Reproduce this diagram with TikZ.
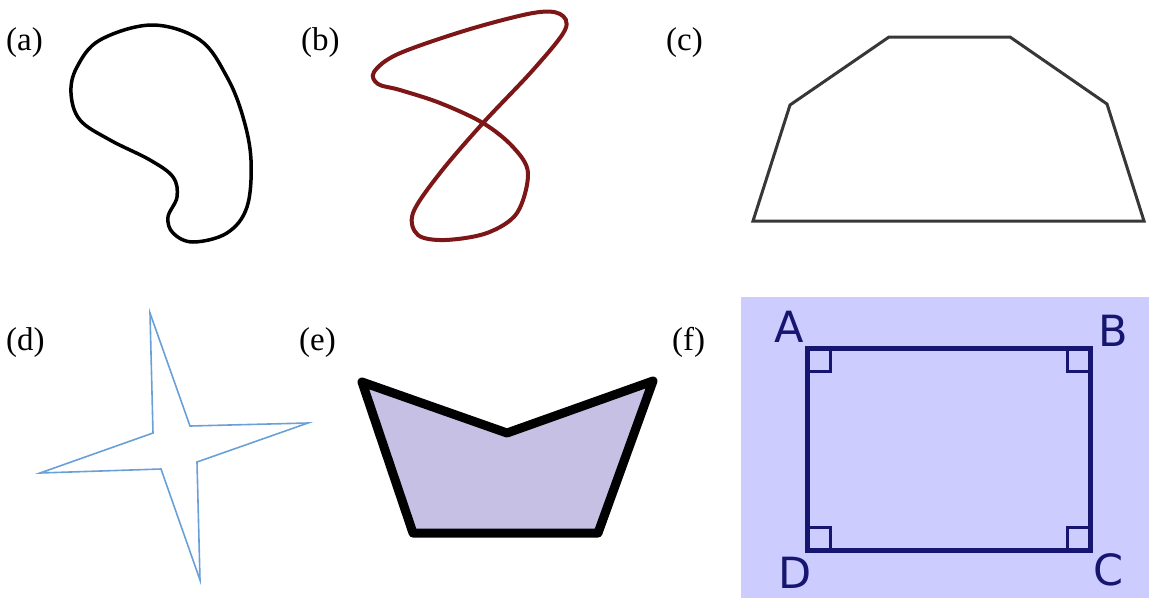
\documentclass[tikz,border=0pt]{standalone}
\usepackage{fontspec}
\setmainfont{Liberation Serif}
\newfontfamily\labsans{DejaVu Sans}
\definecolor{darkred}{RGB}{125,22,22}
\definecolor{starblue}{RGB}{105,160,215}
\definecolor{polygray}{RGB}{55,55,55}
\definecolor{boatfill}{RGB}{198,192,228}
\definecolor{rectbg}{RGB}{204,204,255}
\definecolor{navy}{RGB}{22,22,112}
\begin{document}
\begin{tikzpicture}[x=1pt,y=-1pt,
  lab/.style={anchor=base west,inner sep=0pt,font=\fontsize{33}{38}\selectfont},
  vlab/.style={inner sep=0pt,text=navy,font=\labsans\fontsize{43}{48}\selectfont},
  rmark/.style={draw=navy,line width=3pt}]
\useasboundingbox (0,0) rectangle (1149,598);
% labels
\node[lab] (la) at (6,50) {(a)};
\node[lab] (lb) at (301,50) {(b)};
\node[lab] (lc) at (666,50) {(c)};
\node[lab] (ld) at (6,350) {(d)};
\node[lab] (le) at (299,350) {(e)};
\node[lab] (lf) at (672,350) {(f)};
% (a) kidney
\draw[line width=3.5pt,black] plot[smooth cycle,tension=0.6] coordinates {
 (152,25) (100,40) (77,67) (71,93) (80,120) (110,140) (150,160) (173,177)
 (177,197) (168,217) (173,233) (193,242) (227,233) (247,207) (251,160)
 (243,117) (227,77) (200,40)};
% (b) figure eight
\draw[line width=4pt,darkred] plot[smooth cycle,tension=0.55] coordinates {
 (374,72) (398,54) (467,30) (533,13) (560,14) (565,30) (533,70) (483,123)
 (440,173) (413,213) (418,235) (445,240) (487,233) (517,213) (528,173)
 (513,147) (483,123) (440,103) (400,90) (378,84)};
% (c) polygon
\draw[line width=3pt,polygray,line join=miter]
 (753,221) -- (1144,221) -- (1107,104) -- (1010,37) -- (889,37) -- (790,105) -- cycle;
% (d) star
\draw[line width=1.6pt,starblue,line join=miter]
 (150,313) -- (190,426) -- (308,423) -- (197,462) -- (200,580)
 -- (161,469) -- (40,473) -- (153,433) -- cycle;
% (e) boat
\draw[line width=9pt,black,fill=boatfill,line join=round]
 (362,382) -- (507,433) -- (653,381) -- (598,533) -- (413,533) -- cycle;
% (f) rectangle
\fill[rectbg] (741,297) rectangle (1149,598);
\draw[line width=5pt,navy,line join=miter] (807,348) rectangle (1090,550);
\draw[rmark] (807,371) -- (830,371) -- (830,348);
\draw[rmark] (1090,371) -- (1067,371) -- (1067,348);
\draw[rmark] (807,527) -- (830,527) -- (830,550);
\draw[rmark] (1090,527) -- (1067,527) -- (1067,550);
\node[vlab] (pA) at (789,327) {A};
\node[vlab] (pB) at (1113,331) {B};
\node[vlab] (pD) at (795,573) {D};
\node[vlab] (pC) at (1109,570) {C};
\end{tikzpicture}
\end{document}
